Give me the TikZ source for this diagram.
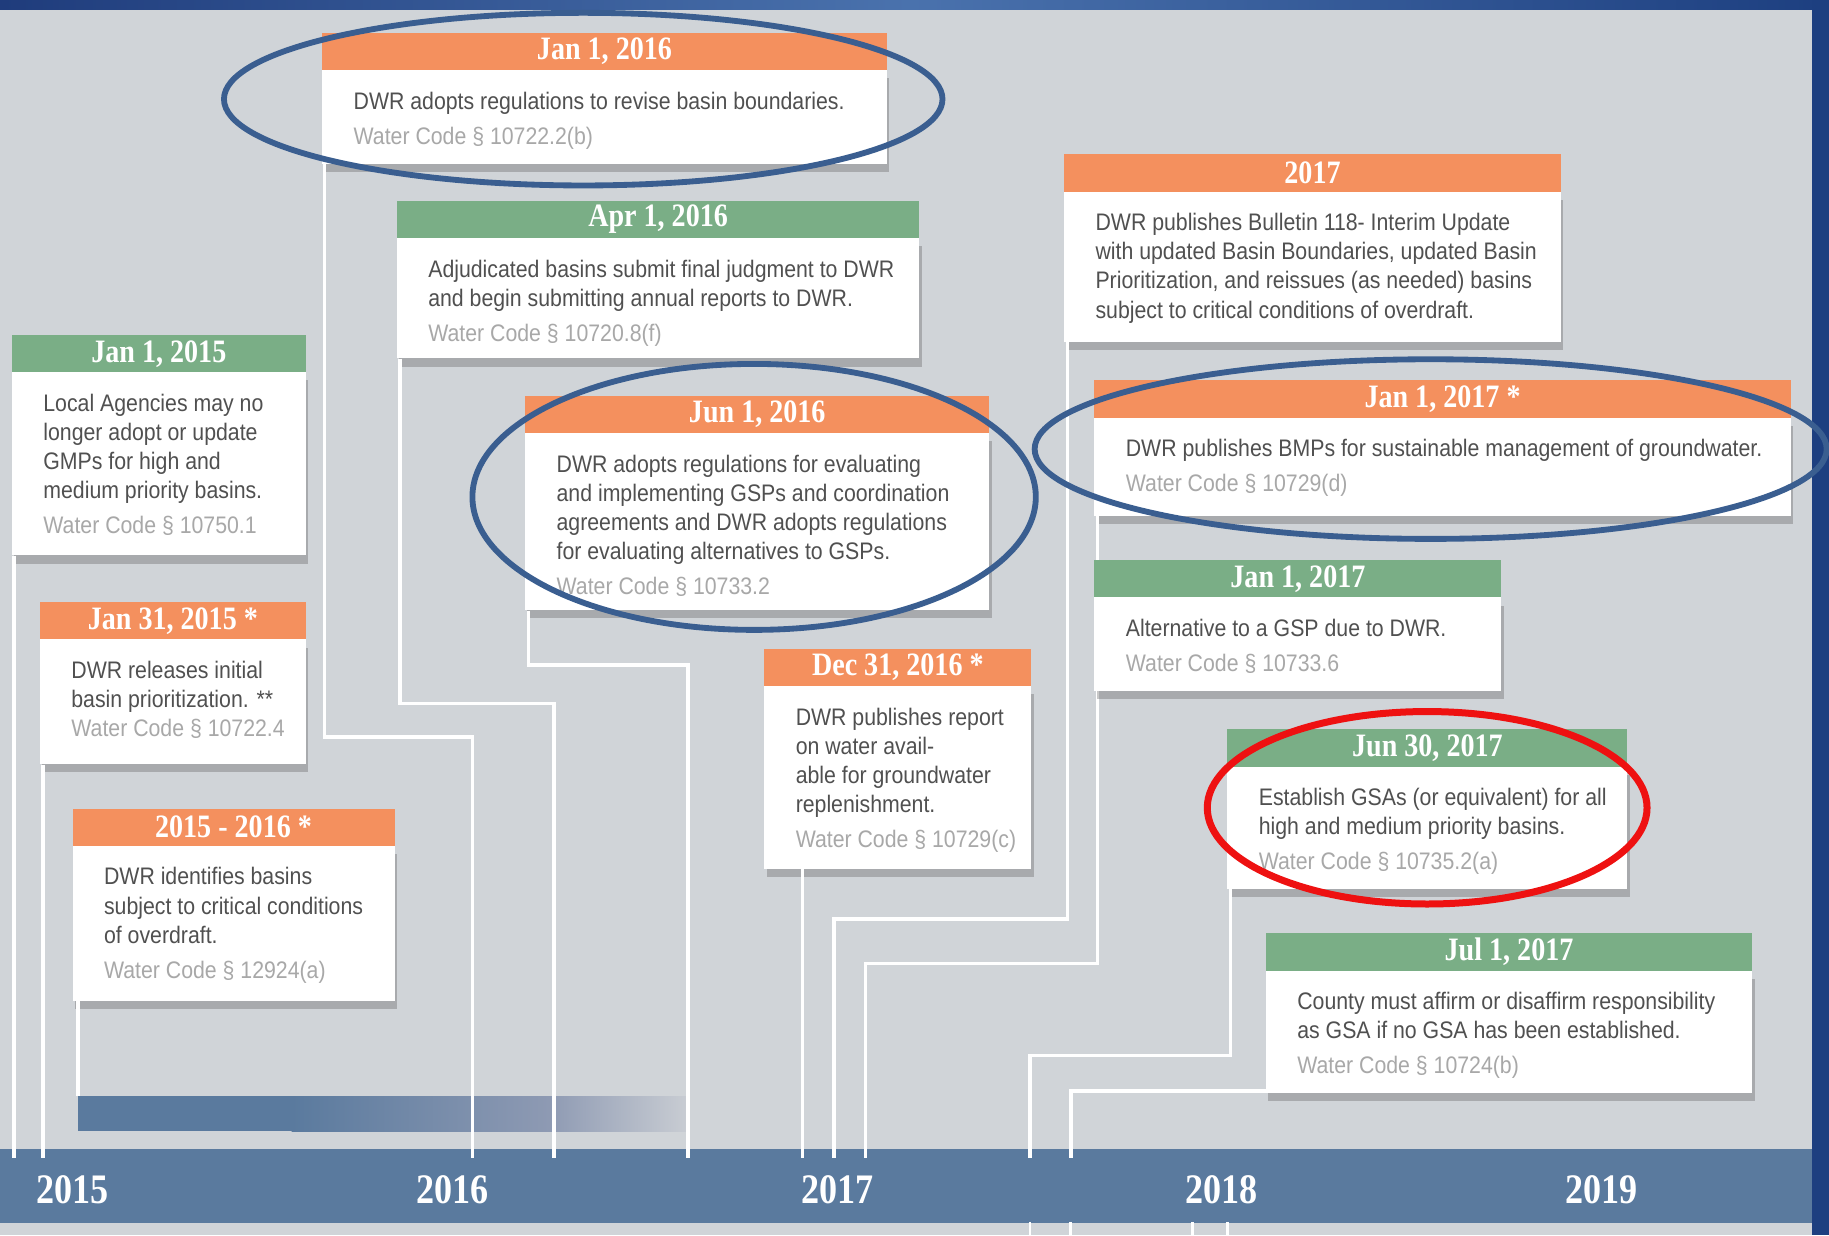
\documentclass[tikz,border=0pt]{standalone}
\usepackage{fontspec}
\setmainfont{Liberation Sans}
\newfontfamily\bodyfont[FakeStretch=0.89]{Liberation Sans}
\newfontfamily\serifc[FakeStretch=0.86]{Liberation Serif}
\usetikzlibrary{shadows,calc}
\definecolor{bg}{HTML}{D0D4D8}
\definecolor{orangeH}{HTML}{F4905E}
\definecolor{greenH}{HTML}{7AAE86}
\definecolor{axisblue}{HTML}{5A7A9E}
\definecolor{fademid}{HTML}{8E9AB3}
\definecolor{fadeend}{HTML}{C9CDD3}
\definecolor{ringblue}{HTML}{3A5E90}
\definecolor{ringred}{HTML}{EE1111}
\definecolor{txtgray}{HTML}{505050}
\definecolor{wcgray}{HTML}{A8A8A8}
\definecolor{navy}{HTML}{1D3F80}
\definecolor{topdark}{HTML}{1F3C7C}
\definecolor{toplight}{HTML}{4A72AD}
\newcommand\tlbox[8]{%
  \node[hdr, fill=#2, minimum width=#4-#3] (h#1) at (#3,#5) {#7};
  \node[bodyb, minimum width=#4-#3, minimum height=#6-#5-32] (b#1) at (#3,#5+32) {};
  \node[btext] (t#1) at (#3+27,#5+48) {\strut #8};
}
\begin{document}
\begin{tikzpicture}[x=1pt,y=-1pt,
  hdr/.style={anchor=north west, minimum height=32, inner sep=0, text=white,
    font=\serifc\bfseries\fontsize{28}{30}\selectfont},
  bodyb/.style={anchor=north west, fill=white, inner sep=0,
    drop shadow={shadow xshift=2pt, shadow yshift=-7pt, opacity=0.3, fill=black!70}},
  btext/.style={anchor=north west, inner sep=0, align=left, text=txtgray,
    font=\bodyfont\fontsize{20.5}{25}\selectfont},
  conn/.style={draw=white, line width=3, line join=miter},
  ring/.style={draw=ringblue, line width=5},
  year/.style={text=white, font=\serifc\bfseries\fontsize{36}{38}\selectfont, inner sep=0}]
\useasboundingbox (0,0) rectangle (1568,1059);
% background
\fill[bg] (0,0) rectangle (1568,1059);
\shade[left color=topdark, right color=toplight] (0,0) rectangle (780,8);
\shade[left color=toplight, right color=navy] (780,0) rectangle (1568,8);
\fill[navy] (1553,0) rectangle (1568,1059);
% axis
\node[fill=axisblue, anchor=north west, inner sep=0, minimum width=1553, minimum height=63] (axis) at (0,985) {};
\node[year] (y2015) at (62,1020) {2015};
\node[year] (y2016) at (388,1020) {2016};
\node[year] (y2017) at (718,1020) {2017};
\node[year] (y2018) at (1047,1020) {2018};
\node[year] (y2019) at (1373,1020) {2019};
% gradient bar
\fill[axisblue] (67,940) rectangle (251,970);
\shade[left color=axisblue, right color=fademid] (250,940) rectangle (471,970);
\shade[left color=fademid, right color=fadeend] (470,940) rectangle (590,970);
% connector ends
\coordinate (aA) at (12,993);
\coordinate (aB) at (37,993);
\coordinate (gbar) at (67,940);
\coordinate (kD) at (405,632); \coordinate (aD) at (405,993);
\coordinate (kE) at (475,603); \coordinate (aE) at (475,993);
\coordinate (kF) at (590,570); \coordinate (aF) at (590,993);
\coordinate (aG) at (688,993);
\coordinate (kH) at (715,788); \coordinate (aH) at (715,993);
\coordinate (kI) at (742,826); \coordinate (aI) at (742,993);
\coordinate (kK) at (883,905); \coordinate (aK) at (883,993);
\coordinate (aL) at (918,993);
% boxes
\tlbox{A}{greenH}{10}{262}{287}{476}{Jan 1, 2015}{Local Agencies may no\\longer adopt or update\\GMPs for high and\\medium priority basins.\\[5pt]{\color{wcgray}Water Code § 10750.1}}
\tlbox{B}{orangeH}{34}{262}{516}{655}{Jan 31, 2015 *}{DWR releases initial\\basin prioritization. **\\{\color{wcgray}Water Code § 10722.4}}
\tlbox{C}{orangeH}{62}{338}{693}{858}{2015 - 2016 *}{DWR identifies basins\\subject to critical conditions\\of overdraft.\\[5pt]{\color{wcgray}Water Code § 12924(a)}}
\tlbox{D}{orangeH}{276}{760}{28}{140}{Jan 1, 2016}{DWR adopts regulations to revise basin boundaries.\\[5pt]{\color{wcgray}Water Code § 10722.2(b)}}
\tlbox{E}{greenH}{340}{788}{172}{307}{Apr 1, 2016}{Adjudicated basins submit final judgment to DWR\\and begin submitting annual reports to DWR.\\[5pt]{\color{wcgray}Water Code § 10720.8(f)}}
\tlbox{F}{orangeH}{450}{848}{339}{523}{Jun 1, 2016}{DWR adopts regulations for evaluating\\and implementing GSPs and coordination\\agreements and DWR adopts regulations\\for evaluating alternatives to GSPs.\\[5pt]{\color{wcgray}Water Code § 10733.2}}
\tlbox{G}{orangeH}{655}{884}{556}{745}{Dec 31, 2016 *}{DWR publishes report\\on water avail-\\able for groundwater\\replenishment.\\[5pt]{\color{wcgray}Water Code § 10729(c)}}
\tlbox{H}{orangeH}{912}{1338}{132}{293}{2017}{DWR publishes Bulletin 118- Interim Update\\with updated Basin Boundaries, updated Basin\\Prioritization, and reissues (as needed) basins\\subject to critical conditions of overdraft.}
\tlbox{I}{orangeH}{938}{1535}{326}{442}{Jan 1, 2017 *}{DWR publishes BMPs for sustainable management of groundwater.\\[5pt]{\color{wcgray}Water Code § 10729(d)}}
\tlbox{K}{greenH}{1052}{1395}{625}{762}{Jun 30, 2017}{Establish GSAs (or equivalent) for all\\high and medium priority basins.\\[5pt]{\color{wcgray}Water Code § 10735.2(a)}}
\tlbox{L}{greenH}{1085}{1502}{800}{937}{Jul 1, 2017}{County must affirm or disaffirm responsibility\\as GSA if no GSA has been established.\\[5pt]{\color{wcgray}Water Code § 10724(b)}}
% connector lines
\draw[conn] (aA |- bA.south) -- (aA);
\draw[conn] (aB |- bB.south) -- (aB);
\draw[conn] (gbar |- bC.south) -- (gbar);
\draw[conn] ([xshift=2pt]bD.south west) |- (kD) -- (aD);
\draw[conn] ([xshift=3pt]bE.south west) |- (kE) -- (aE);
\draw[conn] ([xshift=3pt]bF.south west) |- (kF) -- (aF);
\draw[conn] (aG |- bG.south) -- (aG);
\draw[conn] ([xshift=3pt]bH.south west) |- (kH) -- (aH);
\draw[conn] ([xshift=3pt]bI.south west) |- (kI) -- (aI);
\draw[conn] ([xshift=3pt]bK.south west) |- (kK) -- (aK);
\draw[conn] ([yshift=2pt]bL.south west) -| (aL);
\tlbox{J}{greenH}{938}{1287}{480}{592}{Jan 1, 2017}{Alternative to a GSP due to DWR.\\[5pt]{\color{wcgray}Water Code § 10733.6}}
% ticks below axis
\foreach \tx in {883,918,1022,1052} \draw[white, line width=2.5] (\tx,1048) -- (\tx,1059);
% highlight rings
\draw[ring] (500,85) ellipse [x radius=308, y radius=74];
\draw[ring] (646.5,426) ellipse [x radius=241.5, y radius=114];
\draw[ring] (1226.5,385) ellipse [x radius=339.5, y radius=77];
\draw[draw=ringred, line width=6] (1223.5,692.5) ellipse [x radius=188.5, y radius=82.5];
\end{tikzpicture}
\end{document}
